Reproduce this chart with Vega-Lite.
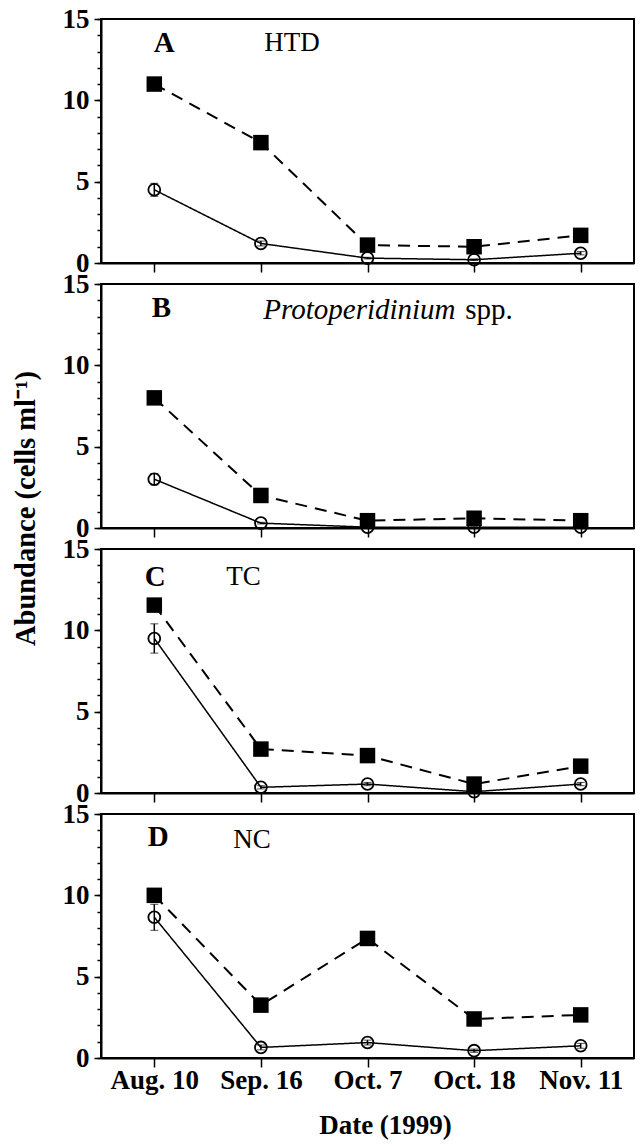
{
  "$schema": "https://vega.github.io/schema/vega-lite/v6.json",
  "background": "white",
  "padding": {"left": 10, "top": 4, "right": 2, "bottom": 4},
  "bounds": "flush",
  "spacing": 21,
  "datasets": {
    "obs": [
      {"panel": "A", "date": "Aug. 10", "series": "sq", "value": 11.0},
      {"panel": "A", "date": "Sep. 16", "series": "sq", "value": 7.4},
      {"panel": "A", "date": "Oct. 7", "series": "sq", "value": 1.1},
      {"panel": "A", "date": "Oct. 18", "series": "sq", "value": 1.0},
      {"panel": "A", "date": "Nov. 11", "series": "sq", "value": 1.7},
      {"panel": "A", "date": "Aug. 10", "series": "ci", "value": 4.5, "err": 0.4},
      {"panel": "A", "date": "Sep. 16", "series": "ci", "value": 1.2, "err": 0.15},
      {"panel": "A", "date": "Oct. 7", "series": "ci", "value": 0.3, "err": 0.05},
      {"panel": "A", "date": "Oct. 18", "series": "ci", "value": 0.2, "err": 0.05},
      {"panel": "A", "date": "Nov. 11", "series": "ci", "value": 0.6, "err": 0.1},
      {"panel": "B", "date": "Aug. 10", "series": "sq", "value": 8.0},
      {"panel": "B", "date": "Sep. 16", "series": "sq", "value": 2.0},
      {"panel": "B", "date": "Oct. 7", "series": "sq", "value": 0.45},
      {"panel": "B", "date": "Oct. 18", "series": "sq", "value": 0.6},
      {"panel": "B", "date": "Nov. 11", "series": "sq", "value": 0.45},
      {"panel": "B", "date": "Aug. 10", "series": "ci", "value": 3.0, "err": 0.35},
      {"panel": "B", "date": "Sep. 16", "series": "ci", "value": 0.3, "err": 0.05},
      {"panel": "B", "date": "Oct. 7", "series": "ci", "value": 0.05, "err": 0.02},
      {"panel": "B", "date": "Oct. 18", "series": "ci", "value": 0.05, "err": 0.02},
      {"panel": "B", "date": "Nov. 11", "series": "ci", "value": 0.05, "err": 0.02},
      {"panel": "C", "date": "Aug. 10", "series": "sq", "value": 11.55},
      {"panel": "C", "date": "Sep. 16", "series": "sq", "value": 2.7},
      {"panel": "C", "date": "Oct. 7", "series": "sq", "value": 2.3},
      {"panel": "C", "date": "Oct. 18", "series": "sq", "value": 0.55},
      {"panel": "C", "date": "Nov. 11", "series": "sq", "value": 1.65},
      {"panel": "C", "date": "Aug. 10", "series": "ci", "value": 9.5, "err": 0.9},
      {"panel": "C", "date": "Sep. 16", "series": "ci", "value": 0.35, "err": 0.1},
      {"panel": "C", "date": "Oct. 7", "series": "ci", "value": 0.55, "err": 0.1},
      {"panel": "C", "date": "Oct. 18", "series": "ci", "value": 0.08, "err": 0.05},
      {"panel": "C", "date": "Nov. 11", "series": "ci", "value": 0.55, "err": 0.1},
      {"panel": "D", "date": "Aug. 10", "series": "sq", "value": 10.0},
      {"panel": "D", "date": "Sep. 16", "series": "sq", "value": 3.25},
      {"panel": "D", "date": "Oct. 7", "series": "sq", "value": 7.35},
      {"panel": "D", "date": "Oct. 18", "series": "sq", "value": 2.4},
      {"panel": "D", "date": "Nov. 11", "series": "sq", "value": 2.65},
      {"panel": "D", "date": "Aug. 10", "series": "ci", "value": 8.65, "err": 0.8},
      {"panel": "D", "date": "Sep. 16", "series": "ci", "value": 0.65, "err": 0.15},
      {"panel": "D", "date": "Oct. 7", "series": "ci", "value": 0.95, "err": 0.15},
      {"panel": "D", "date": "Oct. 18", "series": "ci", "value": 0.45, "err": 0.1},
      {"panel": "D", "date": "Nov. 11", "series": "ci", "value": 0.75, "err": 0.15}
    ],
    "labels": [
      {"panel": "A", "letter": "A", "name": "HTD"},
      {"panel": "B", "letter": "B", "name": "Protoperidinium", "suffix": "spp."},
      {"panel": "C", "letter": "C", "name": "TC"},
      {"panel": "D", "letter": "D", "name": "NC"}
    ]
  },
  "config": {
    "font": "Liberation Serif",
    "view": {"stroke": "black", "strokeWidth": 2},
    "axis": {
      "grid": false,
      "domainColor": "black",
      "domainWidth": 2,
      "tickColor": "black",
      "tickWidth": 1.5,
      "labelColor": "black",
      "labelFont": "Liberation Serif",
      "labelFontWeight": "bold",
      "labelFontSize": 27,
      "labelOverlap": false,
      "titleFont": "Liberation Serif",
      "titleFontWeight": "bold",
      "titleFontSize": 27,
      "titleColor": "black"
    }
  },
  "vconcat": [
    {
      "width": 533, "height": 244,
      "data": {"name": "obs"},
      "transform": [{"filter": "datum.panel === 'A'"}],
      "resolve": {"axis": {"y": "independent"}},
      "layer": [
        {
          "mark": {"type": "line", "color": "black"},
          "encoding": {
            "x": {"field": "date", "type": "ordinal", "scale": {"type": "point", "domain": ["Aug. 10", "Sep. 16", "Oct. 7", "Oct. 18", "Nov. 11"], "padding": 0.5}, "axis": {"labels": false, "title": null, "tickSize": 9}},
            "y": {"field": "value", "type": "quantitative", "scale": {"domain": [0, 15], "nice": false}, "axis": {"orient": "left", "values": [0, 5, 10, 15], "tickSize": 7, "labelPadding": 5, "title": null}},
            "strokeDash": {"field": "series", "type": "nominal", "scale": {"domain": ["sq", "ci"], "range": [[12, 8], [1, 0]]}, "legend": null},
            "strokeWidth": {"field": "series", "type": "nominal", "scale": {"domain": ["sq", "ci"], "range": [2, 1.5]}, "legend": null}
          }
        },
        {
          "transform": [{"filter": "datum.series === 'ci'"}],
          "mark": {"type": "errorbar", "ticks": {"size": 8, "strokeWidth": 1.5}, "rule": {"strokeWidth": 1.5}, "color": "black"},
          "encoding": {
            "x": {"field": "date", "type": "ordinal"},
            "y": {"field": "value", "type": "quantitative", "axis": null},
            "yError": {"field": "err"}
          }
        },
        {
          "transform": [{"filter": "datum.series === 'ci'"}],
          "mark": {"type": "point", "shape": "circle", "filled": false, "size": 140, "strokeWidth": 1.8, "color": "black", "opacity": 1},
          "encoding": {"x": {"field": "date", "type": "ordinal"}, "y": {"field": "value", "type": "quantitative", "axis": null}}
        },
        {
          "transform": [{"filter": "datum.series === 'sq'"}],
          "mark": {"type": "square", "size": 240, "color": "black", "opacity": 1},
          "encoding": {"x": {"field": "date", "type": "ordinal"}, "y": {"field": "value", "type": "quantitative", "axis": {"orient": "left", "values": [0,1,2,3,4,5,6,7,8,9,10,11,12,13,14,15], "labels": false, "domain": false, "tickSize": 4, "title": null}}}
        },
        {
          "data": {"name": "labels"},
          "transform": [{"filter": "datum.panel === 'A'"}],
          "mark": {"type": "text", "font": "Liberation Serif", "fontWeight": "bold", "fontSize": 29, "align": "center", "baseline": "middle", "dx": 10, "color": "black"},
          "encoding": {"x": {"datum": "Aug. 10", "type": "ordinal"}, "y": {"datum": 13.5, "type": "quantitative", "axis": null}, "text": {"field": "letter"}}
        },
        {
          "data": {"name": "labels"},
          "transform": [{"filter": "datum.panel === 'A'"}],
          "mark": {"type": "text", "font": "Liberation Serif", "fontSize": 27, "align": "left", "baseline": "middle", "dx": 110, "color": "black"},
          "encoding": {"x": {"datum": "Aug. 10", "type": "ordinal"}, "y": {"datum": 13.5, "type": "quantitative", "axis": null}, "text": {"field": "name"}}
        }
      ]
    },
    {
      "width": 533, "height": 244,
      "data": {"name": "obs"},
      "transform": [{"filter": "datum.panel === 'B'"}],
      "resolve": {"axis": {"y": "independent"}},
      "layer": [
        {
          "mark": {"type": "line", "color": "black"},
          "encoding": {
            "x": {"field": "date", "type": "ordinal", "scale": {"type": "point", "domain": ["Aug. 10", "Sep. 16", "Oct. 7", "Oct. 18", "Nov. 11"], "padding": 0.5}, "axis": {"labels": false, "title": null, "tickSize": 9}},
            "y": {"field": "value", "type": "quantitative", "scale": {"domain": [0, 15], "nice": false}, "axis": {"orient": "left", "values": [0, 5, 10, 15], "tickSize": 7, "labelPadding": 5, "title": "Abundance (cells ml⁻¹)", "titleFontSize": 28.5, "titleAngle": 270, "titleAlign": "center", "titleBaseline": "middle", "titleX": -76, "titleY": 224}},
            "strokeDash": {"field": "series", "type": "nominal", "scale": {"domain": ["sq", "ci"], "range": [[12, 8], [1, 0]]}, "legend": null},
            "strokeWidth": {"field": "series", "type": "nominal", "scale": {"domain": ["sq", "ci"], "range": [2, 1.5]}, "legend": null}
          }
        },
        {
          "transform": [{"filter": "datum.series === 'ci'"}],
          "mark": {"type": "errorbar", "ticks": {"size": 8, "strokeWidth": 1.5}, "rule": {"strokeWidth": 1.5}, "color": "black"},
          "encoding": {
            "x": {"field": "date", "type": "ordinal"},
            "y": {"field": "value", "type": "quantitative", "axis": null},
            "yError": {"field": "err"}
          }
        },
        {
          "transform": [{"filter": "datum.series === 'ci'"}],
          "mark": {"type": "point", "shape": "circle", "filled": false, "size": 140, "strokeWidth": 1.8, "color": "black", "opacity": 1},
          "encoding": {"x": {"field": "date", "type": "ordinal"}, "y": {"field": "value", "type": "quantitative", "axis": null}}
        },
        {
          "transform": [{"filter": "datum.series === 'sq'"}],
          "mark": {"type": "square", "size": 240, "color": "black", "opacity": 1},
          "encoding": {"x": {"field": "date", "type": "ordinal"}, "y": {"field": "value", "type": "quantitative", "axis": {"orient": "left", "values": [0,1,2,3,4,5,6,7,8,9,10,11,12,13,14,15], "labels": false, "domain": false, "tickSize": 4, "title": null}}}
        },
        {
          "data": {"name": "labels"},
          "transform": [{"filter": "datum.panel === 'B'"}],
          "mark": {"type": "text", "font": "Liberation Serif", "fontWeight": "bold", "fontSize": 29, "align": "center", "baseline": "middle", "dx": 7, "color": "black"},
          "encoding": {"x": {"datum": "Aug. 10", "type": "ordinal"}, "y": {"datum": 13.5, "type": "quantitative", "axis": null}, "text": {"field": "letter"}}
        },
        {
          "data": {"name": "labels"},
          "transform": [{"filter": "datum.panel === 'B'"}],
          "mark": {"type": "text", "font": "Liberation Serif", "fontStyle": "italic", "fontSize": 29, "align": "left", "baseline": "middle", "dx": 109, "color": "black"},
          "encoding": {"x": {"datum": "Aug. 10", "type": "ordinal"}, "y": {"datum": 13.4, "type": "quantitative", "axis": null}, "text": {"field": "name"}}
        },
        {
          "data": {"name": "labels"},
          "transform": [{"filter": "datum.panel === 'B'"}],
          "mark": {"type": "text", "font": "Liberation Serif", "fontSize": 29, "align": "left", "baseline": "middle", "dx": 311, "color": "black"},
          "encoding": {"x": {"datum": "Aug. 10", "type": "ordinal"}, "y": {"datum": 13.4, "type": "quantitative", "axis": null}, "text": {"field": "suffix"}}
        }
      ]
    },
    {
      "width": 533, "height": 244,
      "data": {"name": "obs"},
      "transform": [{"filter": "datum.panel === 'C'"}],
      "resolve": {"axis": {"y": "independent"}},
      "layer": [
        {
          "mark": {"type": "line", "color": "black"},
          "encoding": {
            "x": {"field": "date", "type": "ordinal", "scale": {"type": "point", "domain": ["Aug. 10", "Sep. 16", "Oct. 7", "Oct. 18", "Nov. 11"], "padding": 0.5}, "axis": {"labels": false, "title": null, "tickSize": 9}},
            "y": {"field": "value", "type": "quantitative", "scale": {"domain": [0, 15], "nice": false}, "axis": {"orient": "left", "values": [0, 5, 10, 15], "tickSize": 7, "labelPadding": 5, "title": null}},
            "strokeDash": {"field": "series", "type": "nominal", "scale": {"domain": ["sq", "ci"], "range": [[12, 8], [1, 0]]}, "legend": null},
            "strokeWidth": {"field": "series", "type": "nominal", "scale": {"domain": ["sq", "ci"], "range": [2, 1.5]}, "legend": null}
          }
        },
        {
          "transform": [{"filter": "datum.series === 'ci'"}],
          "mark": {"type": "errorbar", "ticks": {"size": 8, "strokeWidth": 1.5}, "rule": {"strokeWidth": 1.5}, "color": "black"},
          "encoding": {
            "x": {"field": "date", "type": "ordinal"},
            "y": {"field": "value", "type": "quantitative", "axis": null},
            "yError": {"field": "err"}
          }
        },
        {
          "transform": [{"filter": "datum.series === 'ci'"}],
          "mark": {"type": "point", "shape": "circle", "filled": false, "size": 140, "strokeWidth": 1.8, "color": "black", "opacity": 1},
          "encoding": {"x": {"field": "date", "type": "ordinal"}, "y": {"field": "value", "type": "quantitative", "axis": null}}
        },
        {
          "transform": [{"filter": "datum.series === 'sq'"}],
          "mark": {"type": "square", "size": 240, "color": "black", "opacity": 1},
          "encoding": {"x": {"field": "date", "type": "ordinal"}, "y": {"field": "value", "type": "quantitative", "axis": {"orient": "left", "values": [0,1,2,3,4,5,6,7,8,9,10,11,12,13,14,15], "labels": false, "domain": false, "tickSize": 4, "title": null}}}
        },
        {
          "data": {"name": "labels"},
          "transform": [{"filter": "datum.panel === 'C'"}],
          "mark": {"type": "text", "font": "Liberation Serif", "fontWeight": "bold", "fontSize": 29, "align": "center", "baseline": "middle", "dx": 1, "color": "black"},
          "encoding": {"x": {"datum": "Aug. 10", "type": "ordinal"}, "y": {"datum": 13.3, "type": "quantitative", "axis": null}, "text": {"field": "letter"}}
        },
        {
          "data": {"name": "labels"},
          "transform": [{"filter": "datum.panel === 'C'"}],
          "mark": {"type": "text", "font": "Liberation Serif", "fontSize": 27, "align": "left", "baseline": "middle", "dx": 72, "color": "black"},
          "encoding": {"x": {"datum": "Aug. 10", "type": "ordinal"}, "y": {"datum": 13.3, "type": "quantitative", "axis": null}, "text": {"field": "name"}}
        }
      ]
    },
    {
      "width": 533, "height": 244,
      "data": {"name": "obs"},
      "transform": [{"filter": "datum.panel === 'D'"}],
      "resolve": {"axis": {"y": "independent"}},
      "layer": [
        {
          "mark": {"type": "line", "color": "black"},
          "encoding": {
            "x": {"field": "date", "type": "ordinal", "scale": {"type": "point", "domain": ["Aug. 10", "Sep. 16", "Oct. 7", "Oct. 18", "Nov. 11"], "padding": 0.5}, "axis": {"labelAngle": 0, "labelPadding": 0, "tickSize": 9, "title": "Date (1999)", "titleX": 284, "titleY": 67, "titleBaseline": "middle", "titleAlign": "center"}},
            "y": {"field": "value", "type": "quantitative", "scale": {"domain": [0, 15], "nice": false}, "axis": {"orient": "left", "values": [0, 5, 10, 15], "tickSize": 7, "labelPadding": 5, "title": null}},
            "strokeDash": {"field": "series", "type": "nominal", "scale": {"domain": ["sq", "ci"], "range": [[12, 8], [1, 0]]}, "legend": null},
            "strokeWidth": {"field": "series", "type": "nominal", "scale": {"domain": ["sq", "ci"], "range": [2, 1.5]}, "legend": null}
          }
        },
        {
          "transform": [{"filter": "datum.series === 'ci'"}],
          "mark": {"type": "errorbar", "ticks": {"size": 8, "strokeWidth": 1.5}, "rule": {"strokeWidth": 1.5}, "color": "black"},
          "encoding": {
            "x": {"field": "date", "type": "ordinal"},
            "y": {"field": "value", "type": "quantitative", "axis": null},
            "yError": {"field": "err"}
          }
        },
        {
          "transform": [{"filter": "datum.series === 'ci'"}],
          "mark": {"type": "point", "shape": "circle", "filled": false, "size": 140, "strokeWidth": 1.8, "color": "black", "opacity": 1},
          "encoding": {"x": {"field": "date", "type": "ordinal"}, "y": {"field": "value", "type": "quantitative", "axis": null}}
        },
        {
          "transform": [{"filter": "datum.series === 'sq'"}],
          "mark": {"type": "square", "size": 240, "color": "black", "opacity": 1},
          "encoding": {"x": {"field": "date", "type": "ordinal"}, "y": {"field": "value", "type": "quantitative", "axis": {"orient": "left", "values": [0,1,2,3,4,5,6,7,8,9,10,11,12,13,14,15], "labels": false, "domain": false, "tickSize": 4, "title": null}}}
        },
        {
          "data": {"name": "labels"},
          "transform": [{"filter": "datum.panel === 'D'"}],
          "mark": {"type": "text", "font": "Liberation Serif", "fontWeight": "bold", "fontSize": 29, "align": "center", "baseline": "middle", "dx": 4, "color": "black"},
          "encoding": {"x": {"datum": "Aug. 10", "type": "ordinal"}, "y": {"datum": 13.6, "type": "quantitative", "axis": null}, "text": {"field": "letter"}}
        },
        {
          "data": {"name": "labels"},
          "transform": [{"filter": "datum.panel === 'D'"}],
          "mark": {"type": "text", "font": "Liberation Serif", "fontSize": 27, "align": "left", "baseline": "middle", "dx": 79, "color": "black"},
          "encoding": {"x": {"datum": "Aug. 10", "type": "ordinal"}, "y": {"datum": 13.4, "type": "quantitative", "axis": null}, "text": {"field": "name"}}
        }
      ]
    }
  ]
}
